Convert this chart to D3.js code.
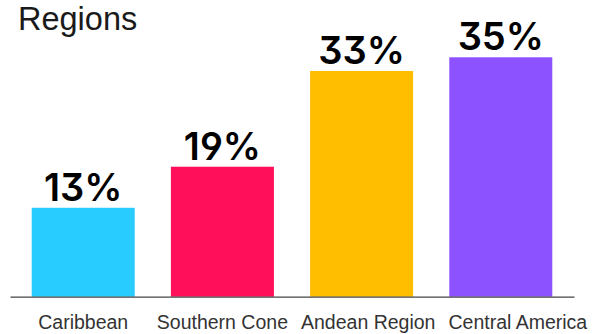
<!DOCTYPE html>
<html>
<head>
<meta charset="utf-8">
<script src="https://cdn.jsdelivr.net/npm/d3@7"></script>
<style>
  html, body { margin: 0; padding: 0; background: #fff; }
  svg { display: block; }
  .value-label { font-feature-settings: "ss01"; }
</style>
</head>
<body>
<svg id="chart" width="599" height="334"></svg>
<script>
// Share of respondents by region
const categories = ["Caribbean", "Southern Cone", "Andean Region", "Central America"];
const values = [13, 19, 33, 35];
const colors = ["#29CCFF", "#FF0F5A", "#FFBF00", "#8C52FF"];

const svg = d3.select("#chart");
const baseY = 296.7;

const x = d3.scaleBand()
  .domain(categories)
  .range([10, 574])
  .paddingInner(0.26)
  .paddingOuter(0.156);

const y = d3.scaleLinear()
  .domain([0, 35])
  .range([baseY, 57.3]);

// Title
svg.append("text")
  .attr("x", 18)
  .attr("y", 29.5)
  .attr("font-family", "'Liberation Sans', Arial, sans-serif")
  .attr("font-size", 32.5)
  .attr("fill", "#1a1a1a")
  .text("Regions");

// Bars
svg.append("g").selectAll("rect")
  .data(values)
  .join("rect")
  .attr("x", (d, i) => x(categories[i]))
  .attr("width", x.bandwidth())
  .attr("y", d => y(d))
  .attr("height", d => baseY - y(d))
  .attr("fill", (d, i) => colors[i]);

// Value labels
svg.append("g").selectAll("text")
  .data(values)
  .join("text")
  .attr("class", "value-label")
  .attr("x", (d, i) => x(categories[i]) + x.bandwidth() / 2)
  .attr("y", d => y(d) - 7)
  .attr("text-anchor", "middle")
  .attr("font-family", "Inter, 'DejaVu Sans', sans-serif")
  .attr("font-weight", 600)
  .attr("font-size", 38)
  .attr("fill", "#000")
  .text(d => d + "%");

// Baseline axis with category labels
const axis = svg.append("g")
  .attr("transform", `translate(0,${baseY})`)
  .call(d3.axisBottom(x).tickSize(0).tickPadding(18));
axis.select(".domain").attr("stroke", "#444").attr("stroke-width", 1.2);
const tickText = axis.selectAll("text")
  .attr("font-family", "'Liberation Sans', Arial, sans-serif")
  .attr("font-size", 19.5)
  .attr("fill", "#333");

// Nudge category labels apart so neighbours keep a minimum gap
const gap = 13;
let prevRight = -Infinity;
tickText.each(function () {
  const w = this.getComputedTextLength();
  const center = x(this.textContent) + x.bandwidth() / 2;
  let left = center - w / 2;
  if (left < prevRight + gap) left = prevRight + gap;
  d3.select(this).attr("x", left + w / 2 - center);
  prevRight = left + w;
});
</script>
</body>
</html>
